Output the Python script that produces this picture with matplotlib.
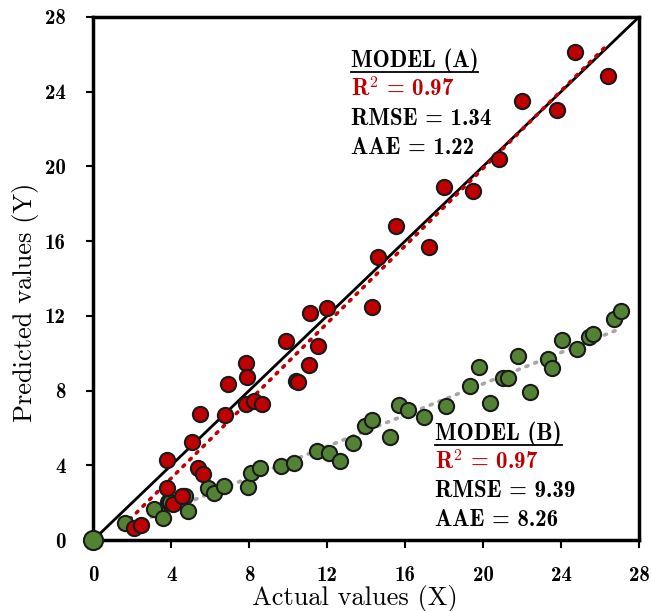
import matplotlib
matplotlib.use("Agg")
import matplotlib.pyplot as plt
from matplotlib.lines import Line2D
import numpy as np

plt.rcParams['font.family'] = ['cmb10']
plt.rcParams['mathtext.fontset'] = 'cm'
plt.rcParams['axes.unicode_minus'] = False

# model A (red)
xa = [2.07, 2.45, 3.78, 3.78, 4.09, 4.55, 5.06, 5.35, 5.62, 5.49, 6.77, 6.94,
      7.83, 7.91, 7.85, 8.26, 8.65, 9.88, 10.41, 10.51, 11.08, 11.13, 11.55,
      11.98, 14.32, 14.63, 15.54, 17.25, 18.02, 19.47, 20.82, 21.98, 23.81,
      24.72, 26.43]
ya = [0.63, 0.80, 4.28, 2.77, 1.93, 2.36, 5.26, 3.84, 3.52, 6.73, 6.69, 8.35,
      9.46, 8.71, 7.26, 7.46, 7.28, 10.67, 8.53, 8.48, 9.37, 12.14, 10.39,
      12.40, 12.46, 15.17, 16.83, 15.67, 18.92, 18.68, 20.40, 23.50, 23.02,
      26.11, 24.86]

# model B (green)
xb = [1.64, 3.14, 3.57, 3.86, 3.95, 4.72, 4.84, 5.91, 6.21, 6.72, 7.93, 8.10,
      8.56, 9.62, 10.32, 11.47, 12.12, 12.67, 13.35, 13.95, 14.29, 15.23,
      15.71, 16.14, 16.97, 18.10, 19.33, 19.81, 20.36, 21.04, 21.30, 21.81,
      22.41, 23.35, 23.52, 24.03, 24.80, 25.45, 25.66, 26.72, 27.08]
yb = [0.93, 1.64, 1.16, 2.05, 2.05, 2.36, 1.57, 2.77, 2.50, 2.91, 2.82, 3.60,
      3.87, 3.96, 4.10, 4.78, 4.67, 4.23, 5.21, 6.10, 6.42, 5.50, 7.21, 6.94,
      6.60, 7.19, 8.26, 9.25, 7.32, 8.69, 8.69, 9.85, 7.94, 9.67, 9.19, 10.71,
      10.22, 10.85, 11.01, 11.81, 12.28]

ticks = [0, 4, 8, 12, 16, 20, 24, 28]
stats_a = ["0.97", "1.34", "1.22"]
stats_b = ["0.97", "9.39", "8.26"]

red = '#C00000'
green = '#548235'

fig = plt.figure(figsize=(6.52, 6.11), dpi=100)
ax = fig.add_axes([0.143, 0.1162, 0.837, 0.8560])

ax.plot([0, 28], [0, 28], color='black', lw=2, zorder=2)

xa_arr, ya_arr = np.array(xa), np.array(ya)
xb_arr, yb_arr = np.array(xb), np.array(yb)
ka = np.polyfit(xa_arr, ya_arr, 1)
kb = np.polyfit(xb_arr, yb_arr, 1)
fa = np.array([xa_arr.min() - 0.2, xa_arr.max()])
fb = np.array([xb_arr.min(), xb_arr.max()])
ax.plot(fa, np.polyval(ka, fa), color=red, lw=2.6, ls=(0, (0.6, 2.0)),
        dash_capstyle='round', zorder=2)
ax.plot(fb, np.polyval(kb, fb), color='#A6A6A6', lw=2.6, ls=(0, (0.6, 2.0)),
        dash_capstyle='round', zorder=2)

ax.scatter(xb, yb, s=120, color=green, edgecolor='#1a1a1a', linewidth=1.5, zorder=3)
ax.scatter(xa, ya, s=120, color=red, edgecolor='#1a1a1a', linewidth=1.5, zorder=4)
ax.scatter([0], [0], s=190, color=green, edgecolor='#1a1a1a', linewidth=1.5,
           zorder=5, clip_on=False)

ax.set_xlim(0, 28)
ax.set_ylim(0, 28)
ax.set_xticks(ticks)
ax.set_yticks(ticks)
ax.tick_params(axis='x', direction='out', length=6, width=1.5, pad=13, labelsize=15)
ax.tick_params(axis='y', direction='out', length=5, width=1.5, pad=15, labelsize=15)
for s in ax.spines.values():
    s.set_linewidth(2.5)

ax.set_xlabel('Actual values (X)', fontsize=19, family='cmr10', va='center')
ax.set_ylabel('Predicted values (Y)', fontsize=19, family='cmr10', va='center')
ax.xaxis.set_label_coords(0.48, -0.111)
ax.yaxis.set_label_coords(-0.1245, 0.455)

fs = 16.5

def block(x, y, title, vals):
    t = ax.text(x, y, title, fontsize=fs, ha='left', va='center')
    ax.text(x, y - 1.55, r'R$^{\mathbf{2}}$ = ' + vals[0], fontsize=fs, color=red,
            ha='left', va='center')
    ax.text(x, y - 3.1, 'RMSE = ' + vals[1], fontsize=fs, ha='left', va='center')
    ax.text(x, y - 4.65, 'AAE = ' + vals[2], fontsize=fs, ha='left', va='center')
    return t

ta = block(13.2, 25.65, 'MODEL (A)', stats_a)
tb = block(17.55, 5.7, 'MODEL (B)', stats_b)

fig.canvas.draw()
inv = fig.transFigure.inverted()
for t in (ta, tb):
    bb = t.get_window_extent()
    (x0, y0), (x1, _) = inv.transform([[bb.x0, bb.y0 + 1], [bb.x1, bb.y0 + 1]])
    fig.add_artist(Line2D([x0, x1], [y0, y0], color='black', lw=1.3))

fig.savefig('out.png', dpi=100)
